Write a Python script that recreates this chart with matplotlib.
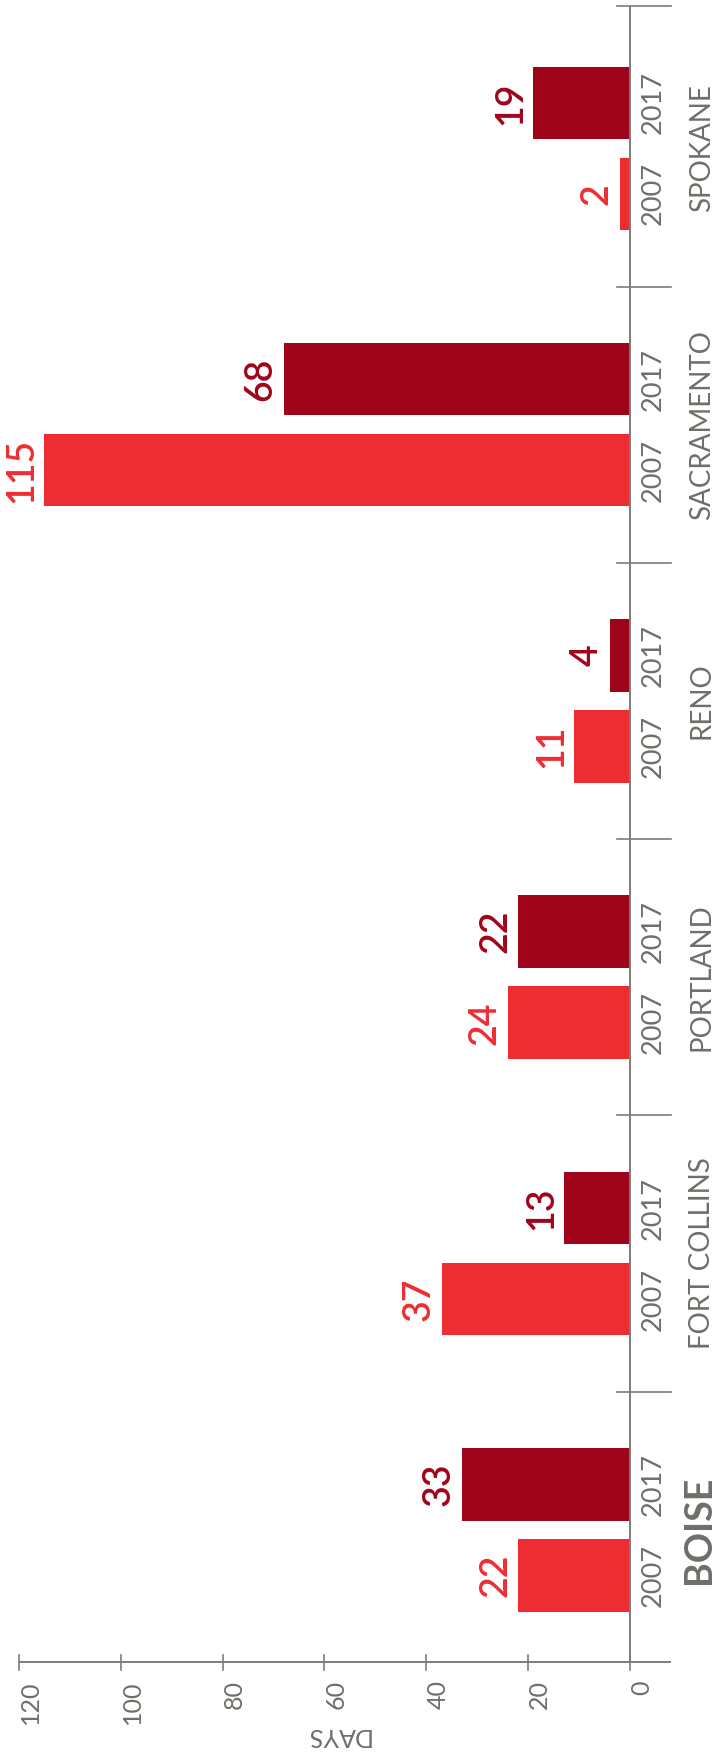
import matplotlib
matplotlib.use("Agg")
import matplotlib.pyplot as plt

# ---- data ----
cities = ["BOISE", "FORT COLLINS", "PORTLAND", "RENO", "SACRAMENTO", "SPOKANE"]
days_2007 = [22, 37, 24, 11, 115, 2]
days_2017 = [33, 13, 22, 4, 68, 19]
years = ["2007", "2017"]
tick_values = [0, 20, 40, 60, 80, 100, 120]
axis_title = "DAYS"

# ---- style ----
C07 = "#EE2D32"
C17 = "#A0041A"
GRAY = "#6E6F69"
LINE = "#7D7D77"
FONT = "Lato"

plt.rcParams["font.family"] = [FONT, "DejaVu Sans"]

W, H = 713, 1760
fig = plt.figure(figsize=(W / 100, H / 100), dpi=100)
ax = fig.add_axes([0, 0, 1, 1])
ax.set_axis_off()

px_per_day = 5.092
px_per_grp = 276.3
x0_px = 630
y0_px = 1668
ax.set_xlim(x0_px / px_per_day, -(W - x0_px) / px_per_day)
ax.set_ylim(-(H - y0_px) / px_per_grp, y0_px / px_per_grp)

axis_y = (y0_px - 1662) / px_per_grp
top_y = (y0_px - 6) / px_per_grp
sep_l = 13 / px_per_day
sep_r = -41 / px_per_day
tick_h = 7.5 / px_per_grp

off = 0.1647
bh = 0.263
n = len(cities)
pos = [i + 0.5 for i in range(n)]

ax.barh([p - off for p in pos], days_2007, height=bh, left=0, color=C07, zorder=2)
ax.barh([p + off for p in pos], days_2017, height=bh, left=0, color=C17, zorder=2)

# axis lines
ax.plot([0, 0], [axis_y, top_y], color=LINE, lw=1.4, zorder=3, solid_capstyle="butt")
ax.plot([max(tick_values), sep_r], [axis_y, axis_y], color=LINE, lw=1.4, zorder=3,
        solid_capstyle="butt")
for k in range(1, n + 1):
    yy = top_y if k == n else k
    ax.plot([sep_l, sep_r], [yy, yy], color=LINE, lw=1.2, zorder=3)
for t in tick_values:
    ax.plot([t, t], [axis_y - tick_h, axis_y + tick_h], color=LINE, lw=1.2, zorder=3)
    ax.annotate(str(t), xy=(t, axis_y), xytext=(0, -18), textcoords="offset pixels",
                rotation=90, rotation_mode="anchor", ha="right", va="top",
                fontsize=18, color=GRAY, fontweight="normal")

ax.annotate(axis_title, xy=(57.5, axis_y), xytext=(0, -73), textcoords="offset pixels",
            rotation=180, ha="center", va="center", fontsize=18, color=GRAY,
            fontweight="normal")

for i, p in enumerate(pos):
    for yv, val, col, yr in ((p - off, days_2007[i], C07, years[0]),
                             (p + off, days_2017[i], C17, years[1])):
        ax.annotate(str(val), xy=(val, yv), xytext=(-12, 0), textcoords="offset pixels",
                    rotation=90, rotation_mode="anchor", ha="center", va="baseline",
                    fontsize=27, color=col, fontweight="semibold")
        ax.annotate(yr, xy=(0, yv), xytext=(31, 0), textcoords="offset pixels",
                    rotation=90, rotation_mode="anchor", ha="center", va="baseline",
                    fontsize=19.5, color=GRAY, fontweight="normal")
    bold = cities[i] == "BOISE"
    ax.annotate(cities[i], xy=(0, p), xytext=(80, 0), textcoords="offset pixels",
                rotation=90, rotation_mode="anchor", ha="center", va="baseline",
                fontsize=27 if bold else 20, color=GRAY,
                fontweight="bold" if bold else "normal")

fig.savefig("out.png", dpi=100, facecolor="white")
